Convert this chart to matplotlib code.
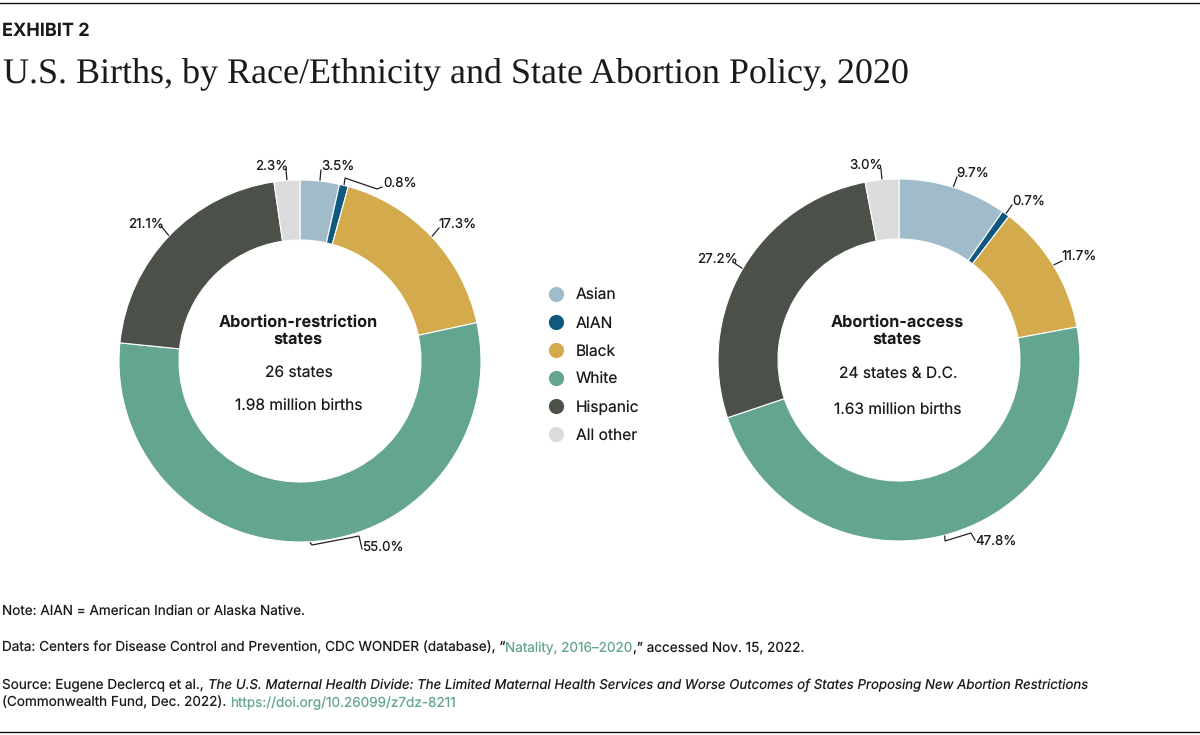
import numpy as np
import matplotlib
matplotlib.use('Agg')
import matplotlib.pyplot as plt

plt.rcParams['font.family'] = ['Inter', 'DejaVu Sans']
plt.rcParams['text.hinting'] = 'no_hinting'
plt.rcParams['text.hinting_factor'] = 1

# data
categories = ['Asian', 'AIAN', 'Black', 'White', 'Hispanic', 'All other']
restriction_vals = [3.5, 0.8, 17.3, 55.0, 21.1, 2.3]
access_vals = [9.7, 0.7, 11.7, 47.8, 27.2, 3.0]
colors = ['#a0bccb', '#115880', '#d3ab4c', '#64a592', '#4b5149', '#dcdcdc']

TXT = '#1a1a1a'
GREEN = '#64a592'
R = 181
R_IN = 121

fig = plt.figure(figsize=(12, 7.35), dpi=100)
# whole figure axes, coordinates are pixels of the picture
ax = fig.add_axes([0, 0, 1, 1])


def donut(vals, cx, cy, layout):
    wedges, _ = ax.pie(vals, colors=colors, center=(cx, cy), radius=R, startangle=-90,
                       counterclock=True, normalize=True,
                       wedgeprops=dict(width=R - R_IN, edgecolor='white', linewidth=0.8))
    for w, v, (tx, ty, pts) in zip(wedges, vals, layout):
        a = np.deg2rad((w.theta1 + w.theta2) / 2)
        start = (cx + (R + 1) * np.cos(a), cy + (R + 1) * np.sin(a))
        xs = [start[0]] + [p[0] for p in pts]
        ys = [start[1]] + [p[1] for p in pts]
        ax.plot(xs, ys, color='#222222', lw=0.9, solid_joinstyle='miter')
        ax.text(tx, ty, '%.1f%%' % v, ha='left', va='center', fontsize=9.6, color=TXT)


# label x, label y, leader points after the wedge edge
left_layout = [
    (321, 166, [(321, 170)]),
    (383, 183, [(345, 178), (377, 189), (382, 187)]),
    (439, 224, [(439, 228)]),
    (362, 547, [(312, 545), (359, 536), (362, 549)]),
    (128, 224, [(161, 226)]),
    (255, 166, [(286, 169)]),
]
right_layout = [
    (956, 173, [(957, 177)]),
    (1012, 201, [(1012, 205)]),
    (1062, 256, [(1062, 261)]),
    (975, 541, [(945, 541), (971, 533), (975, 540)]),
    (697, 259, [(733, 262)]),
    (849, 165, [(881, 169)]),
]

donut(restriction_vals, 300, 361, left_layout)
donut(access_vals, 899, 360, right_layout)

ax.set_xlim(0, 1200)
ax.set_ylim(735, 0)
ax.axis('off')

# center text
ax.text(298, 322, 'Abortion-restriction', ha='center', va='center', fontsize=11.7, fontweight='bold', color=TXT)
ax.text(298, 339, 'states', ha='center', va='center', fontsize=11.7, fontweight='bold', color=TXT)
ax.text(299, 373, '26 states', ha='center', va='center', fontsize=11.2, color=TXT)
ax.text(299, 407, '1.98 million births', ha='center', va='center', fontsize=11.2, color=TXT)
ax.text(897, 322, 'Abortion-access', ha='center', va='center', fontsize=11.7, fontweight='bold', color=TXT)
ax.text(897, 339, 'states', ha='center', va='center', fontsize=11.7, fontweight='bold', color=TXT)
ax.text(898, 374, '24 states & D.C.', ha='center', va='center', fontsize=11.2, color=TXT)
ax.text(898, 411, '1.63 million births', ha='center', va='center', fontsize=11.2, color=TXT)

# legend
for i, (c, col) in enumerate(zip(categories, colors)):
    y = 294 + 28 * i
    ax.scatter([556], [y], s=120, color=col, linewidths=0)
    ax.text(576, y + 2, c, ha='left', va='center', fontsize=11.2, color=TXT)

# rules
ax.plot([0, 1200], [3, 3], color='#111111', lw=1)
ax.plot([0, 1200], [732, 732], color='#111111', lw=1)

# header
ax.text(2, 31, 'EXHIBIT 2', ha='left', va='center', fontsize=13, fontweight='bold', color=TXT)
ax.text(3, 75, 'U.S. Births, by Race/Ethnicity and State Abortion Policy, 2020', ha='left', va='center',
        fontsize=25.65, family='Liberation Serif', color=TXT)


def run_text(x, y, parts):
    # text pieces on one baseline, each starting where the last one stopped
    rend = fig.canvas.get_renderer()
    for s, kw in parts:
        t = ax.text(x, y, s, ha='left', va='baseline', fontsize=kw.get('size', 9.75),
                    color=kw.get('color', TXT), style=kw.get('style', 'normal'))
        x = t.get_window_extent(rend).x1


run_text(2, 615, [('Note: AIAN = American Indian or Alaska Native.', {})])
run_text(2, 652, [('Data: Centers for Disease Control and Prevention, CDC WONDER (database), \u201c', {}),
                  ('Natality, 2016\u20132020', {'color': GREEN}),
                  (',\u201d accessed Nov. 15, 2022.', {})])
run_text(2, 689, [('Source: Eugene Declercq et al., ', {}),
                  ('The U.S. Maternal Health Divide: The Limited Maternal Health Services and Worse Outcomes of States Proposing New Abortion Restrictions',
                   {'style': 'italic', 'size': 9.55})])
run_text(2, 707, [('(Commonwealth Fund, Dec. 2022). ', {}),
                  ('https://doi.org/10.26099/z7dz-8211', {'color': GREEN})])

fig.savefig('out.png', dpi=100)
